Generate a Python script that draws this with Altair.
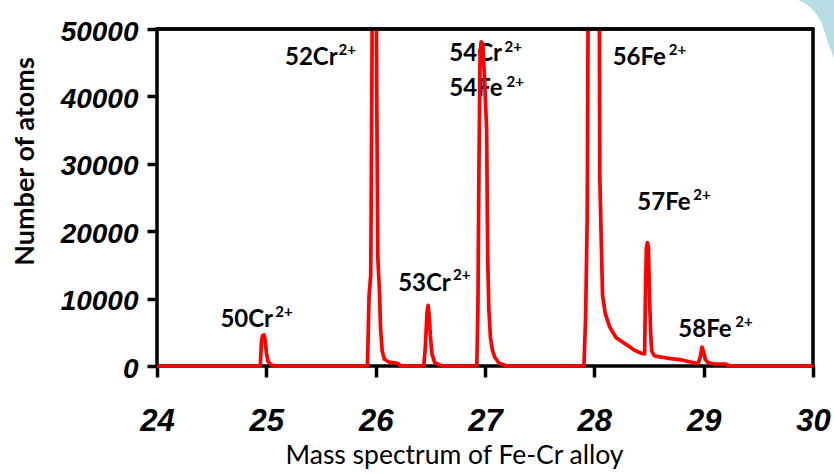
import altair as alt
import pandas as pd

# ---- spectrum (mass-to-charge, counts) ----
mass = [24.00, 24.945, 24.955, 24.965, 24.98, 24.99, 25.00, 25.015, 25.04, 25.08,
        25.925, 25.94, 25.955, 25.965, 25.975, 26.00, 26.01, 26.02, 26.035, 26.045,
        26.06, 26.08, 26.12, 26.20, 26.23,
        26.44, 26.455, 26.47, 26.48, 26.49, 26.50, 26.515, 26.54, 26.58, 26.62,
        26.925, 26.935, 26.945, 26.955, 26.965, 26.98, 26.995, 27.015, 27.025, 27.035,
        27.05, 27.07, 27.09, 27.13, 27.20,
        27.905, 27.92, 27.935, 27.945, 27.96, 28.03, 28.045, 28.05, 28.06, 28.075,
        28.10, 28.14, 28.20, 28.30, 28.36, 28.43, 28.46,
        28.468, 28.476, 28.485, 28.495, 28.505, 28.515, 28.525, 28.55, 28.62, 28.70,
        28.80, 28.88, 28.95, 28.97, 28.985, 29.00, 29.015, 29.04, 29.10, 29.20,
        29.24, 30.00]
counts = [0, 0, 3500, 4500, 4600, 3800, 2000, 700, 200, 0,
          0, 10500, 13500, 40000, 80000, 80000, 40000, 16000, 11000, 5500,
          2200, 1000, 600, 400, 0,
          0, 3000, 8000, 9000, 7500, 4500, 1800, 500, 200, 0,
          0, 8000, 30000, 46000, 48100, 47800, 43000, 35000, 16000, 8500,
          4200, 2200, 1300, 400, 0,
          0, 7000, 22000, 60000, 200000, 200000, 60000, 28000, 21000, 10500,
          7800, 5800, 4200, 3100, 2400, 1900, 1800,
          11000, 17500, 18300, 17600, 10000, 5000, 2200, 1500, 1300, 1100,
          900, 600, 350, 1400, 2800, 2100, 1000, 500, 300, 300,
          0, 0]

# ---- peak labels ----
label_text = ["50Cr", "52Cr", "53Cr", "54Cr", "54Fe", "56Fe", "57Fe", "58Fe"]
label_mass = [24.58, 25.171, 26.206, 26.674, 26.674, 28.168, 28.393, 28.768]
label_count = [5830, 44660, 11130, 45300, 40060, 44660, 23150, 4350]
sup_text = ["2+", "2+", "2+", "2+", "2+", "2+", "2+", "2+"]
sup_mass = [25.082, 25.66, 26.708, 27.178, 27.196, 28.68, 28.905, 29.29]
sup_count = [7315, 46140, 12760, 46630, 41440, 46140, 24630, 5830]

x_ticks = [24, 25, 26, 27, 28, 29, 30]
y_ticks = [0, 10000, 20000, 30000, 40000, 50000]

W, H, Y0 = 656, 340, 337

spec_df = pd.DataFrame({"mass": mass, "count": counts})
lab_df = pd.DataFrame({"text": label_text, "mass": label_mass, "count": label_count})
sup_df = pd.DataFrame({"text": sup_text, "mass": sup_mass, "count": sup_count})
one = pd.DataFrame({"a": [0]})

x_scale = alt.Scale(domain=[24, 30], nice=False, zero=False)
y_scale = alt.Scale(domain=[0, 50000], nice=False, range=[Y0, 0])

x_axis = alt.Axis(
    values=x_ticks, format="d", title="Mass spectrum of Fe-Cr alloy",
    domain=False, grid=False, ticks=True, tickSize=11, tickWidth=3.5, tickColor="black",
    labelFont="Liberation Sans", labelFontSize=31,
    labelFontWeight="bold", labelFontStyle="italic", labelColor="black",
    labelPadding=53, labelBaseline="alphabetic", labelFlush=False, labelOverlap=False,
    offset=-3,
    titleFont="Lato", titleFontSize=26.5, titleFontWeight="normal", titleColor="black",
    titleX=297, titleY=97, titleAlign="center", titleBaseline="alphabetic",
)
y_axis = alt.Axis(
    values=y_ticks, format="d", title="Number of atoms",
    domain=False, grid=False, ticks=True, tickSize=10, tickWidth=3.5, tickColor="black",
    labelFont="Liberation Sans", labelFontSize=28, labelFontWeight="bold",
    labelFontStyle="italic", labelColor="black", labelPadding=9,
    labelBaseline="alphabetic", labelOffset=11, labelFlush=False, labelOverlap=False,
    titleFont="Lato", titleFontSize=27, titleFontWeight="bold", titleColor="black",
    titleAngle=270, titleX=-124, titleY=132, titleAlign="center", titleBaseline="alphabetic",
)

X = alt.X("mass:Q", scale=x_scale, axis=x_axis)
Y = alt.Y("count:Q", scale=y_scale, axis=y_axis)

frame = alt.Chart(one).mark_rect(fillOpacity=0, stroke="black", strokeWidth=3.5).encode(
    x=alt.value(0), x2=alt.value(W), y=alt.value(0), y2=alt.value(Y0)
)

labels = alt.Chart(lab_df).mark_text(
    font="Lato", fontSize=24, fontWeight="bold", align="left", baseline="alphabetic", color="black"
).encode(x=X, y=Y, text="text:N")

sups = alt.Chart(sup_df).mark_text(
    font="Lato", fontSize=15, fontWeight="bold", align="left", baseline="alphabetic", color="black"
).encode(x=X, y=Y, text="text:N")

line = alt.Chart(spec_df).mark_line(color="#FF0000", strokeWidth=3.7, clip=True, strokeJoin="round").encode(
    x=X, y=Y
)

top_rule = alt.Chart(one).mark_rule(color="black", strokeWidth=3.5).encode(
    x=alt.value(0), x2=alt.value(W), y=alt.value(0)
)

blob_path = ("M 641 -29 L 700 -29 L 700 40 L 677 29 L 671 14 L 668 4 "
             "L 665 -5 L 660 -14 L 653 -22 L 646 -27 Z")
deco = alt.Chart(one).mark_point(
    shape=blob_path, filled=True, fill="#B8DEE3", strokeWidth=0, size=4, opacity=1
).encode(x=alt.value(0), y=alt.value(0))

chart = alt.layer(frame, labels, sups, line, top_rule, deco).properties(
    width=W, height=H,
    autosize=alt.AutoSizeParams(type="none"),
    padding={"left": 157, "top": 29, "right": 21, "bottom": 105},
    background="white",
).configure_view(strokeWidth=0)

chart.save("out.html", embed_options={"renderer": "svg", "actions": False})
